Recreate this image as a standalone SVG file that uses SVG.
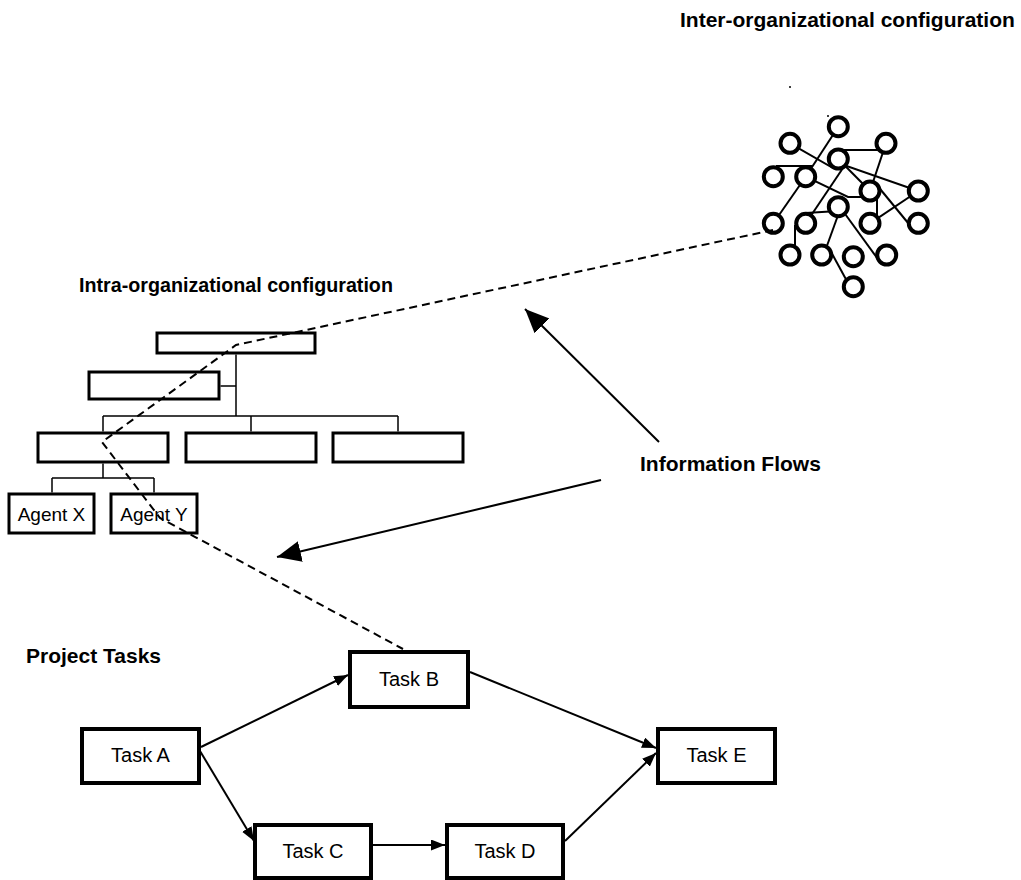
<svg xmlns="http://www.w3.org/2000/svg" width="1021" height="880" viewBox="0 0 1021 880">
<style>
.lbl{font-family:"Liberation Sans",Arial,sans-serif;font-weight:bold;fill:#000}
.txt{font-family:"Liberation Sans",Arial,sans-serif;fill:#000;text-anchor:middle}
.task{fill:#fff;stroke:#000;stroke-width:4}
.org{fill:#fff;stroke:#000;stroke-width:3}
.ol{stroke:#000;stroke-width:1.5;fill:none}
.arr{stroke:#000;stroke-width:2;fill:none}
.dash{stroke:#000;stroke-width:2;fill:none;stroke-dasharray:8,5}
.net{stroke:#000;stroke-width:2;fill:none}
.nd{fill:#fff;stroke:#000;stroke-width:4}
</style>
<defs>
<marker id="ah" markerUnits="userSpaceOnUse" markerWidth="15" markerHeight="12" refX="14" refY="5.5" orient="auto">
<path d="M0,0 L14,5.5 L0,11 z" fill="#000"/>
</marker>
<marker id="ahb" markerUnits="userSpaceOnUse" markerWidth="25" markerHeight="22" refX="24" refY="10.5" orient="auto">
<path d="M0,0 L24,10.5 L0,21 z" fill="#000"/>
</marker>
</defs>
<rect width="1021" height="880" fill="#fff"/>

<text class="lbl" x="680" y="27" font-size="21">Inter-organizational configuration</text>
<text class="lbl" x="79" y="292" font-size="19.7">Intra-organizational configuration</text>
<text class="lbl" x="26" y="663" font-size="21">Project Tasks</text>
<text class="lbl" x="640" y="471" font-size="21">Information Flows</text>

<g id="net-edges">
<line class="net" x1="838.3" y1="126.7" x2="805.7" y2="176.7"/>
<line class="net" x1="805.7" y1="176.7" x2="773.3" y2="223.3"/>
<polyline class="net" points="790,143.3 831.7,167.3 846.7,166 918.3,191"/>
<line class="net" x1="843" y1="150" x2="886" y2="150"/>
<line class="net" x1="886" y1="143.3" x2="870" y2="191"/>
<line class="net" x1="838.3" y1="159" x2="870" y2="191"/>
<line class="net" x1="843" y1="168" x2="806" y2="223"/>
<line class="net" x1="776" y1="166" x2="812" y2="166"/>
<polyline class="net" points="805.7,176.7 848,197 870,197"/>
<line class="net" x1="805.7" y1="213" x2="838" y2="211"/>
<line class="net" x1="877" y1="195" x2="877" y2="220"/>
<line class="net" x1="876" y1="184" x2="913" y2="229"/>
<line class="net" x1="918.3" y1="191" x2="870" y2="223.3"/>
<line class="net" x1="841" y1="207" x2="824" y2="254"/>
<line class="net" x1="840" y1="207" x2="880" y2="262"/>
<line class="net" x1="795" y1="225" x2="795" y2="252"/>
<line class="net" x1="830" y1="250" x2="848" y2="283"/>
</g>

<g id="network">
<circle class="nd" cx="838.3" cy="126.7" r="9.5"/>
<circle class="nd" cx="790" cy="143.3" r="9.5"/>
<circle class="nd" cx="886" cy="143.3" r="9.5"/>
<circle class="nd" cx="838.3" cy="159" r="9.5"/>
<circle class="nd" cx="773.3" cy="176.7" r="9.5"/>
<circle class="nd" cx="805.7" cy="176.7" r="9.5"/>
<circle class="nd" cx="870" cy="191" r="9.5"/>
<circle class="nd" cx="918.3" cy="191" r="9.5"/>
<circle class="nd" cx="838.3" cy="206.7" r="9.5"/>
<circle class="nd" cx="773.3" cy="223.3" r="9.5"/>
<circle class="nd" cx="805.7" cy="223.3" r="9.5"/>
<circle class="nd" cx="870" cy="223.3" r="9.5"/>
<circle class="nd" cx="918.3" cy="223.3" r="9.5"/>
<circle class="nd" cx="790" cy="255" r="9.5"/>
<circle class="nd" cx="821.7" cy="255" r="9.5"/>
<circle class="nd" cx="853.3" cy="256.7" r="9.5"/>
<circle class="nd" cx="886.7" cy="255" r="9.5"/>
<circle class="nd" cx="853.3" cy="286.7" r="9.5"/>
<circle cx="790" cy="87" r="1" fill="#000"/>
<circle cx="828" cy="116" r="1" fill="#000"/>
</g>

<g id="org-top"><rect class="org" x="157" y="333" width="158" height="20"/></g>
<g id="org-second"><rect class="org" x="89" y="372" width="130" height="27"/></g>
<g id="org-dept1"><rect class="org" x="38" y="433" width="130" height="29"/></g>
<g id="org-dept2"><rect class="org" x="186" y="433" width="130" height="29"/></g>
<g id="org-dept3"><rect class="org" x="333" y="433" width="130" height="29"/></g>
<g id="agent-x"><rect class="org" x="9" y="494" width="85" height="39"/><text class="txt" x="51.5" y="521" font-size="19">Agent X</text></g>
<g id="agent-y"><rect class="org" x="111" y="494" width="86" height="39"/><text class="txt" x="154" y="521" font-size="19">Agent Y</text></g>

<g id="task-a"><rect class="task" x="82" y="729" width="117" height="54"/><text class="txt" x="140.5" y="762" font-size="20">Task A</text></g>
<g id="task-b"><rect class="task" x="350" y="652" width="118" height="55"/><text class="txt" x="409" y="686" font-size="20">Task B</text></g>
<g id="task-c"><rect class="task" x="255" y="825" width="116" height="53"/><text class="txt" x="313" y="858" font-size="20">Task C</text></g>
<g id="task-d"><rect class="task" x="447" y="825" width="116" height="53"/><text class="txt" x="505" y="858" font-size="20">Task D</text></g>
<g id="task-e"><rect class="task" x="658" y="729" width="117" height="54"/><text class="txt" x="716.5" y="762" font-size="20">Task E</text></g>

<g id="connectors">
<path class="ol" d="M236,354.5 V416 M220.5,386 H236 M103,416 H398 M103,416 V431.5 M251,416 V431.5 M398,416 V431.5 M103,463.5 V478 M52,478 H154 M52,478 V492.5 M154,478 V492.5"/>
<polyline class="dash" points="773,230 236,345 102,442 160,518 403,649"/>
<line class="arr" x1="659" y1="442" x2="525" y2="309" marker-end="url(#ahb)"/>
<line class="arr" x1="601" y1="480" x2="277" y2="557" marker-end="url(#ahb)"/>
<line class="arr" x1="201" y1="747" x2="348" y2="675" marker-end="url(#ah)"/>
<line class="arr" x1="200" y1="751" x2="254" y2="841" marker-end="url(#ah)"/>
<line class="arr" x1="373" y1="845" x2="445" y2="845" marker-end="url(#ah)"/>
<line class="arr" x1="470" y1="672" x2="656" y2="748" marker-end="url(#ah)"/>
<line class="arr" x1="565" y1="841" x2="656" y2="753" marker-end="url(#ah)"/>
</g>
</svg>
